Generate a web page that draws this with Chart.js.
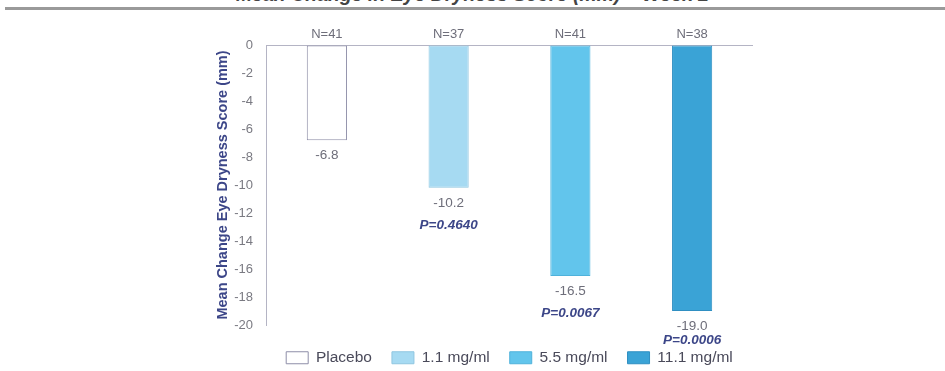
<!DOCTYPE html>
<html>
<head>
<meta charset="utf-8">
<script src="https://cdn.jsdelivr.net/npm/chart.js@4"></script>
<style>
  body { margin: 0; background: #fff; }
  #wrap { position: relative; width: 945px; height: 371px; overflow: hidden; }
  #title {
    position: absolute; left: 0; width: 945px; top: -17px; text-align: center;
    font: italic bold 19.5px "Liberation Sans", Arial, sans-serif; color: #444;
  }
  #rule { position: absolute; left: 5px; right: 0; top: 7px; height: 3px; background: #9a9a9a; }
  canvas { position: absolute; left: 0; top: 0; }
</style>
</head>
<body>
<div id="wrap">
  <div id="title">Mean Change in Eye Dryness Score (mm) – Week 2</div>
  <div id="rule"></div>
  <canvas id="chart" width="945" height="371"></canvas>
</div>
<script>
// --- DONNÉES ---
const groups = ["Placebo", "1.1 mg/ml", "5.5 mg/ml", "11.1 mg/ml"];
const meanChange = [-6.8, -10.2, -16.5, -19.0];
const nLabels = ["N=41", "N=37", "N=41", "N=38"];
const pValues = ["", "P=0.4640", "P=0.0067", "P=0.0006"];
const yTicks = [0, -2, -4, -6, -8, -10, -12, -14, -16, -18, -20];

const fills = ["#ffffff", "#a6daf2", "#62c5ec", "#3aa3d6"];
const borders = ["#8e8ea8", "#8fc6e0", "#4fb2db", "#2f8fc2"];

const FONT = '"Liberation Sans", Arial, sans-serif';

// un dataset par groupe pour avoir la légende
const datasets = groups.map((g, i) => ({
  label: g,
  data: groups.map((_, j) => (j === i ? meanChange[i] : null)),
  backgroundColor: fills[i],
  borderColor: borders[i],
  borderWidth: 1,
  borderSkipped: false,
  barPercentage: 0.33,
  categoryPercentage: 1,
  skipNull: true,
}));

// --- ÉTIQUETTES SUR LES BARRES ---
const barLabels = {
  id: "barLabels",
  afterDraw(chart) {
    const ctx = chart.ctx;
    ctx.save();
    ctx.textAlign = "center";
    ctx.textBaseline = "middle";
    chart.data.datasets.forEach((ds, i) => {
      const bar = chart.getDatasetMeta(i).data[i];
      if (!bar) return;
      ctx.fillStyle = "#6e6e7a";
      ctx.font = "13px " + FONT;
      ctx.fillText(nLabels[i], bar.x, chart.chartArea.top - 11);
      ctx.font = "13.5px " + FONT;
      ctx.fillText(meanChange[i].toFixed(1), bar.x, bar.y + 15);
      if (pValues[i]) {
        ctx.fillStyle = "#3c4688";
        ctx.font = "italic bold 13.5px " + FONT;
        ctx.fillText(pValues[i], bar.x, Math.min(bar.y + 37, 340));
      }
    });
    ctx.restore();
  },
};

// hauteur fixe pour la légende
const legendHeight = {
  id: "legendHeight",
  beforeLayout(chart) {
    const lg = chart.legend;
    if (!lg || lg._fixed) return;
    const fit = lg.fit;
    lg.fit = function () {
      fit.call(this);
      this.height = 41;
    };
    lg._fixed = true;
  },
};

new Chart(document.getElementById("chart"), {
  type: "bar",
  data: { labels: groups, datasets: datasets },
  plugins: [barLabels, legendHeight],
  options: {
    responsive: false,
    animation: false,
    layout: { padding: { left: 212, right: 192, top: 45, bottom: 0 } },
    plugins: {
      tooltip: { enabled: false },
      legend: {
        position: "bottom",
        fullSize: false,
        labels: {
          boxWidth: 22,
          boxHeight: 12,
          padding: 20,
          color: "#4a4a5a",
          font: { family: FONT, size: 15.5 },
        },
      },
    },
    scales: {
      x: {
        position: "bottom",
        ticks: { display: false },
        grid: { display: false },
        border: { display: false },
        afterFit: (s) => { s.height = 5; },
      },
      y: {
        min: -20,
        max: 0,
        afterBuildTicks: (s) => { s.ticks = yTicks.map((v) => ({ value: v })); },
        afterFit: (s) => { s.width = 54; },
        ticks: {
          color: "#7a7a82",
          padding: 13,
          font: { family: FONT, size: 13 },
        },
        grid: {
          drawTicks: false,
          color: (c) => (c.tick && c.tick.value === 0 ? "#b4b4c4" : "rgba(0,0,0,0)"),
        },
        border: { display: true, color: "#b4b4c4" },
        title: {
          display: true,
          text: "Mean Change Eye Dryness Score (mm)",
          color: "#3c4688",
          font: { family: FONT, size: 14.5, weight: "bold" },
          padding: { top: 2, bottom: 0 },
        },
      },
    },
  },
});
</script>
</body>
</html>
